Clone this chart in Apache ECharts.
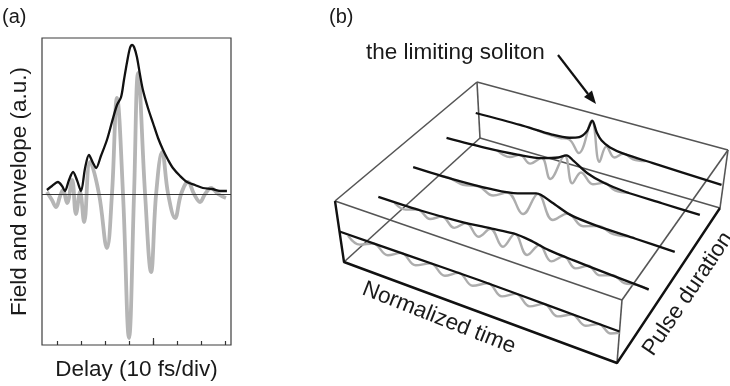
<!DOCTYPE html>
<html>
<head>
<meta charset="utf-8">
<script src="https://cdn.jsdelivr.net/npm/echarts@6/dist/echarts.min.js"></script>
<style>html,body{margin:0;padding:0;background:#fff}#c{width:730px;height:386px}</style>
</head>
<body>
<div id="c"></div>
<script>
// ---------- Panel (a): delay in fs, field / envelope in arbitrary units ----------
const delayTicks = [10, 20, 30, 40, 50, 60, 70, 80];
const delayMajorTick = [50];
const fieldA = [[5.8,2],[7.9,-6],[9.6,-13],[11.3,-2],[12.5,4],[14.2,-9],[16.3,14],[17.9,-20],[19.6,2],[21.3,-28],
  [23.8,32],[27.5,0],[30.8,-54],[32.9,0],[35,96],[37.5,0],[40,-144],[42.1,0],[43.8,121],[46.7,0],[49.2,-78],
  [51.3,0],[53.8,42],[56.3,0],[59.2,-24],[61.7,0],[64.6,12],[67.1,0],[69.6,-8],[71.7,0],[74.2,6],[77.1,0],[80.4,-4]];
const envelopeA = [[5.8,4],[7.9,8],[10.4,12],[12.1,8],[13.3,3],[15,14],[16.7,22],[18.3,14],[20,3],[21.7,26],
  [23.3,39],[25,31],[26.3,26],[28.3,38],[30.8,54],[32.9,72],[35,89],[36.7,97],[37.9,114],[39.2,132],[40.4,146],
  [41.3,149],[42.1,147],[43.3,137],[44.6,119],[45.8,104],[47.9,86],[50,71],[52.1,56],[54.2,44],[56.3,34],
  [58.3,26],[61.3,18],[64.2,12],[67.5,9],[70.8,6],[74.6,5],[77.9,3],[80.8,3]];

// ---------- Panel (b): traces [normalized time, height in box] at several pulse durations ----------
const traceDepth = [0, 0.28, 0.53, 0.77, 0.98];
const trace1Env = [[0,0.5],[0.25,0.51],[0.5,0.52],[0.75,0.51],[1,0.5]];
const trace1Field = [[0.03,0.48],[0.07,0.4],[0.12,0.5],[0.17,0.39],[0.22,0.51],[0.27,0.39],[0.325,0.51],[0.375,0.39],
  [0.425,0.52],[0.475,0.39],[0.53,0.52],[0.58,0.39],[0.63,0.51],[0.68,0.39],[0.73,0.51],[0.78,0.39],[0.83,0.5],
  [0.88,0.4],[0.925,0.5],[0.97,0.42],[1,0.48]];
const trace2Env = [[0,0.51],[0.15,0.52],[0.3,0.56],[0.42,0.62],[0.5,0.66],[0.56,0.64],[0.63,0.58],[0.72,0.55],[0.85,0.52],[1,0.49]];
const trace2Field = [[0.06,0.5],[0.1,0.45],[0.145,0.52],[0.19,0.43],[0.235,0.54],[0.28,0.42],[0.325,0.57],[0.37,0.41],
  [0.415,0.61],[0.46,0.38],[0.505,0.66],[0.55,0.38],[0.595,0.61],[0.64,0.41],[0.685,0.56],[0.73,0.43],[0.775,0.54],
  [0.82,0.45],[0.865,0.52],[0.91,0.46],[0.955,0.5],[1,0.48]];
const trace3Env = [[0,0.5],[0.15,0.51],[0.3,0.55],[0.4,0.62],[0.47,0.72],[0.53,0.65],[0.6,0.54],[0.7,0.5],[0.85,0.49],[1,0.48]];
const trace3Field = [[0.1,0.5],[0.14,0.51],[0.19,0.47],[0.25,0.53],[0.305,0.45],[0.36,0.58],[0.42,0.3],[0.477,0.72],
  [0.534,0.36],[0.59,0.55],[0.65,0.42],[0.705,0.5],[0.765,0.45],[0.82,0.49]];
const trace4Env = [[0,0.5],[0.15,0.53],[0.28,0.58],[0.38,0.65],[0.44,0.74],[0.472,0.82],[0.5,0.76],[0.555,0.62],[0.62,0.54],[0.7,0.5],[0.85,0.49],[1,0.485]];
const trace4Field = [[0.2,0.55],[0.25,0.5],[0.29,0.59],[0.33,0.49],[0.375,0.65],[0.41,0.33],[0.465,0.81],[0.497,0.37],
  [0.53,0.6],[0.578,0.46],[0.62,0.54],[0.665,0.47],[0.72,0.5]];
const trace5Env = [[0,0.49],[0.18,0.5],[0.31,0.49],[0.38,0.52],[0.42,0.58],[0.45,0.72],[0.47,0.93],[0.49,0.74],[0.51,0.63],[0.545,0.55],[0.6,0.51],[0.72,0.49],[1,0.45]];
const trace5Field = [[0.25,0.49],[0.34,0.47],[0.38,0.49],[0.42,0.3],[0.468,0.92],[0.505,0.25],[0.53,0.55],[0.565,0.4],[0.6,0.51],[0.64,0.46],[0.69,0.49]];

const envelopes = [trace1Env, trace2Env, trace3Env, trace4Env, trace5Env];
const fields = [trace1Field, trace2Field, trace3Field, trace4Field, trace5Field];

// ---------- layout of the perspective box (screen pixels) ----------
const box = {
  bot: {fl:[344,262], fr:[617,363], bl:[480,138], br:[720,208]},
  top: {fl:[335,201], fr:[622,300], bl:[477,82], br:[728,150]}
};
function lerp(a, b, s) { return [a[0] + (b[0] - a[0]) * s, a[1] + (b[1] - a[1]) * s]; }
function project(t, d, h) {
  const b = lerp(lerp(box.bot.fl, box.bot.fr, t), lerp(box.bot.bl, box.bot.br, t), d);
  const u = lerp(lerp(box.top.fl, box.top.fr, t), lerp(box.top.bl, box.top.br, t), d);
  return lerp(b, u, h);
}

const FONT = 'Liberation Sans, Arial, Helvetica, sans-serif';
const FS = 22.5;
const TXT = '#1a1a1a';
const series = [];

// panel (a)
series.push({
  type: 'line', xAxisIndex: 0, yAxisIndex: 0, data: fieldA, smooth: 0.4, showSymbol: false,
  lineStyle: {color: '#b5b5b5', width: 3.8}, z: 2,
  markLine: {silent: true, symbol: 'none', label: {show: false}, animation: false,
    lineStyle: {color: '#333', width: 1.2, type: 'solid'}, data: [{yAxis: 0}]}
});
series.push({
  type: 'line', xAxisIndex: 0, yAxisIndex: 0, data: envelopeA, smooth: 0.3, showSymbol: false,
  lineStyle: {color: '#111', width: 2.3}, z: 3
});

// panel (b) box edges (unit cube corners projected)
const greyEdges = [
  [[0,0,1],[0,1,1]], [[0,1,1],[1,1,1]], [[1,1,1],[1,0,1]], [[1,0,1],[0,0,1]],
  [[1,0,1],[1,0,0]], [[1,1,1],[1,1,0]], [[0,1,1],[0,1,0]], [[0,1,0],[1,1,0]], [[0,1,0],[0,0,0]]
];
greyEdges.forEach(e => series.push({
  type: 'line', xAxisIndex: 2, yAxisIndex: 1, showSymbol: false, silent: true,
  data: e.map(p => project(p[0], p[1], p[2])), lineStyle: {color: '#555', width: 1.6}, z: 1
}));
series.push({
  type: 'line', xAxisIndex: 2, yAxisIndex: 1, showSymbol: false, silent: true,
  data: [[0,0,1],[0,0,0],[1,0,0],[1,1,0]].map(p => project(p[0], p[1], p[2])),
  lineStyle: {color: '#111', width: 2.4}, z: 5
});

// traces, back to front
for (let i = traceDepth.length - 1; i >= 0; i--) {
  const d = traceDepth[i];
  series.push({
    type: 'line', xAxisIndex: 2, yAxisIndex: 1, showSymbol: false, smooth: 0.4,
    data: fields[i].map(p => project(p[0], d, p[1])), lineStyle: {color: '#adadad', width: 2.4}, z: 2
  });
  series.push({
    type: 'line', xAxisIndex: 2, yAxisIndex: 1, showSymbol: false, smooth: 0.3,
    data: envelopes[i].map(p => project(p[0], d, p[1])), lineStyle: {color: '#111', width: 2.3}, z: 3
  });
}

const chart = echarts.init(document.getElementById('c'), null, {renderer: 'canvas'});
chart.setOption({
  animation: false,
  backgroundColor: '#fff',
  grid: [
    {left: 42, top: 38, width: 189, height: 307, show: true, borderColor: '#3c3c3c', borderWidth: 1.2},
    {left: 0, top: 0, width: 730, height: 386}
  ],
  xAxis: [
    {gridIndex: 0, type: 'value', min: 3.75, max: 82.5, position: 'bottom', axisLine: {show: false, onZero: false},
     axisTick: {show: true, inside: true, length: 4, customValues: delayTicks, lineStyle: {color: '#333', width: 1.2}},
     axisLabel: {show: false}, splitLine: {show: false},
     name: 'Delay (10 fs/div)', nameLocation: 'middle', nameGap: 13,
     nameTextStyle: {fontSize: FS, color: TXT, fontFamily: FONT}},
    {gridIndex: 0, type: 'value', min: 3.75, max: 82.5, position: 'bottom', axisLine: {show: false, onZero: false},
     axisTick: {show: true, inside: true, length: 7, customValues: delayMajorTick, lineStyle: {color: '#333', width: 1.2}},
     axisLabel: {show: false}, splitLine: {show: false}},
    {gridIndex: 1, type: 'value', min: 0, max: 730, show: false}
  ],
  yAxis: [
    {gridIndex: 0, type: 'value', min: -151, max: 156, axisLine: {show: false, onZero: false}, axisTick: {show: false},
     axisLabel: {show: false}, splitLine: {show: false},
     name: 'Field and envelope (a.u.)', nameLocation: 'middle', nameGap: 11,
     nameTextStyle: {fontSize: FS, color: TXT, fontFamily: FONT}},
    {gridIndex: 1, type: 'value', min: 0, max: 386, inverse: true, show: false}
  ],
  series: series,
  graphic: [
    {type: 'text', x: 2, y: 17, style: {text: '(a)', fontSize: 20, fontFamily: FONT, fill: TXT, verticalAlign: 'middle'}},
    {type: 'text', x: 329, y: 17, style: {text: '(b)', fontSize: 20, fontFamily: FONT, fill: TXT, verticalAlign: 'middle'}},
    {type: 'text', x: 366, y: 53, style: {text: 'the limiting soliton', fontSize: FS, fontFamily: FONT, fill: TXT, verticalAlign: 'middle'}},
    {type: 'line', shape: {x1: 558, y1: 55, x2: 588, y2: 94}, style: {stroke: '#111', lineWidth: 2.2}},
    {type: 'polygon', shape: {points: [[596, 104], [584, 97], [592, 90.5]]}, style: {fill: '#111'}},
    {type: 'text', x: 439, y: 318, rotation: -21.5 * Math.PI / 180,
     style: {text: 'Normalized time', fontSize: FS, fontFamily: FONT, fill: TXT, align: 'center', verticalAlign: 'middle'}},
    {type: 'text', x: 688, y: 294, rotation: 56 * Math.PI / 180,
     style: {text: 'Pulse duration', fontSize: FS, fontFamily: FONT, fill: TXT, align: 'center', verticalAlign: 'middle'}}
  ]
});
</script>
</body>
</html>
